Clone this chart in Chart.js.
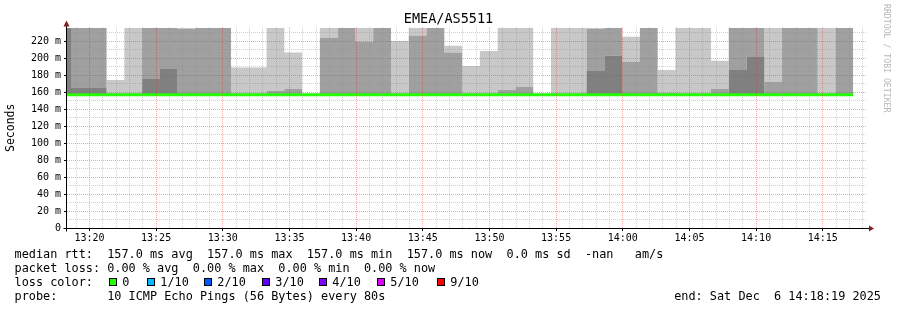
<!DOCTYPE html>
<html>
<head>
<meta charset="utf-8">
<script src="https://cdn.jsdelivr.net/npm/chart.js@4.4.1/dist/chart.umd.min.js"></script>
<style>
    html, body { margin: 0; padding: 0; background: #fff; }
    #wrap { position: relative; width: 897px; height: 310px; overflow: hidden; background: #fff; }
    #chart { position: absolute; left: 0; top: 0; }
    .txt { position: absolute; font-family: "DejaVu Sans Mono", monospace; font-size: 11.85px; line-height: 14px; white-space: pre; color: #000; }
    .box { position: absolute; top: 278px; width: 6px; height: 6px; border: 1px solid #000; }
    #credit { position: absolute; left: 882px; top: 4px; writing-mode: vertical-rl; font-family: "DejaVu Sans Mono", monospace; font-size: 8.2px; line-height: 9px; color: #b8b8b8; white-space: pre; }
</style>
</head>
<body>
<div id="wrap">
    <canvas id="chart" width="897" height="310"></canvas>
    <div id="credit">RRDTOOL / TOBI OETIKER</div>
    <div class="txt" id="rowRtt" style="left:14.5px; top:247px"></div>
    <div class="txt" id="rowLoss" style="left:14.5px; top:261px"></div>
    <div class="txt" style="left:14.5px; top:275px">loss color:</div>
    <div id="lossLegend"></div>
    <div class="txt" id="rowProbe" style="left:14.5px; top:289px"></div>
    <div class="txt" id="rowEnd" style="right:16px; top:289px"></div>
</div>
<script>

// ======================================
// DATA
// ======================================

const title = "EMEA/AS5511";
const viewStart = "13:18:19";
const viewEnd = "14:18:19";
const endLabel = "Sat Dec  6 14:18:19 2025";
const probeText = "10 ICMP Echo Pings (56 Bytes) every 80s";

// 80 s step boundaries (45 steps)
const stepBounds = [
    "13:17:17", "13:18:37", "13:19:57", "13:21:17", "13:22:37", "13:23:57",
    "13:25:17", "13:26:37", "13:27:57", "13:29:17", "13:30:37", "13:31:57",
    "13:33:17", "13:34:37", "13:35:57", "13:37:17", "13:38:37", "13:39:57",
    "13:41:17", "13:42:37", "13:43:57", "13:45:17", "13:46:37", "13:47:57",
    "13:49:17", "13:50:37", "13:51:57", "13:53:17", "13:54:37", "13:55:57",
    "13:57:17", "13:58:37", "13:59:57", "14:01:17", "14:02:37", "14:03:57",
    "14:05:17", "14:06:37", "14:07:57", "14:09:17", "14:10:37", "14:11:57",
    "14:13:17", "14:14:37", "14:15:57", "14:17:17"
];

// median rtt per step (ms)
const medianRtt = [
    157, 157, 157, 157, 157, 157, 157, 157, 157, 157, 157, 157, 157, 157, 157,
    157, 157, 157, 157, 157, 157, 157, 157, 157, 157, 157, 157, 157, 157, 157,
    157, 157, 157, 157, 157, 157, 157, 157, 157, 157, 157, 157, 157, 157, 157
];

// packet loss per step (%)
const lossPct = [
    0, 0, 0, 0, 0, 0, 0, 0, 0, 0, 0, 0, 0, 0, 0,
    0, 0, 0, 0, 0, 0, 0, 0, 0, 0, 0, 0, 0, 0, 0,
    0, 0, 0, 0, 0, 0, 0, 0, 0, 0, 0, 0, 0, 0, 0
];

// smoke: upper edge of the dark, mid and light bands (ms)
const smokeDark = [
    235.5, 165, 165, 157, 157, 175.6, 187.3, 157, 157, 157, 157, 157, 157, 157, 157,
    157, 157, 157, 157, 157, 157, 157, 157, 157, 157, 157, 157, 157, 157, 157,
    185, 203, 157, 157, 157, 157, 157, 157, 186.2, 201.4, 157, 157, 157, 157, 157
];

const smokeMid = [
    235.5, 235.5, 235.5, 157, 157, 235.5, 235.5, 234.3, 235.5, 235.5, 157, 157, 161.5, 163.8, 157,
    223.7, 235.5, 219.4, 235.5, 157, 226.5, 235.5, 206.5, 157, 157, 162.7, 166.2, 157, 157, 157,
    234.3, 235.5, 196, 235.5, 159.5, 157, 157, 163.8, 235.5, 235.5, 172, 235.5, 235.5, 157, 235.5
];

const smokeLight = [
    235.5, 235.5, 235.5, 174.4, 235.5, 235.5, 235.5, 235.5, 235.5, 235.5, 189, 189, 235.5, 206.5, 157,
    235.5, 235.5, 235.5, 235.5, 220.2, 235.5, 235.5, 214.4, 190.9, 208.5, 235.5, 235.5, 157, 235.5, 235.5,
    235.5, 235.5, 225, 235.5, 186.2, 235.5, 235.5, 197, 235.5, 235.5, 235.5, 235.5, 235.5, 235.5, 235.5
];

const xTickLabels = ["13:20", "13:25", "13:30", "13:35", "13:40", "13:45", "13:50", "13:55", "14:00", "14:05", "14:10", "14:15"];
const yTickValues = [0, 20, 40, 60, 80, 100, 120, 140, 160, 180, 200, 220];
const yTickLabels = ["0", "20 m", "40 m", "60 m", "80 m", "100 m", "120 m", "140 m", "160 m", "180 m", "200 m", "220 m"];
const yMax = 236.5;

const lossLabels = ["0", "1/10", "2/10", "3/10", "4/10", "5/10", "9/10"];
const lossColors = ["#26ff00", "#00b8ff", "#0059ff", "#5e00ff", "#7e00ff", "#dd00ff", "#ff0000"];

// legend box positions (px)
const lossBoxLeft = [109, 147, 204, 262, 319, 377, 437];


// ======================================
// HELPERS
// ======================================

const MONO = "'DejaVu Sans Mono', monospace";

const toMinutes = t => {
    const [h, m, s] = t.split(":").map(Number);
    return h * 60 + m + (s || 0) / 60;
};

// value i covers stepBounds[i] .. stepBounds[i + 1]
const stepLine = values => {
    const pts = values.map((v, i) => ({ x: toMinutes(stepBounds[i]), y: v }));
    pts.push({ x: toMinutes(stepBounds[values.length]), y: values[values.length - 1] });
    return pts;
};

const xMajor = xTickLabels.map(toMinutes);

const xGrid = [];
for (let m = Math.ceil(toMinutes(viewStart)); m <= Math.floor(toMinutes(viewEnd)); m++) xGrid.push(m);

const yGrid = [];
for (let v = 0; v <= yMax; v += 10) yGrid.push(v);

const MINOR = "rgba(140,140,140,0.4)";
const MAJOR = "rgba(240,40,40,0.42)";

const band = (data, color) => ({
    data: stepLine(data),
    stepped: "before",
    borderWidth: 0,
    borderColor: "transparent",
    backgroundColor: color,
    pointRadius: 0,
    fill: "-1",
    xAxisID: "x",
    yAxisID: "y"
});


// ======================================
// AXES + ARROWS
// ======================================

const rrdAxes = {
    id: "rrdAxes",
    afterDraw(chart) {
        const { ctx, chartArea: a, scales } = chart;
        const ax = Math.round(a.left) - 0.5;
        const ay = Math.round(a.bottom - 0.5) + 0.5;

        ctx.save();
        ctx.strokeStyle = "#000";
        ctx.lineWidth = 1;
        ctx.beginPath();
        ctx.moveTo(ax, a.top - 1);
        ctx.lineTo(ax, ay + 3);
        ctx.moveTo(ax - 3, ay);
        ctx.lineTo(a.right + 2, ay);
        ctx.stroke();

        ctx.fillStyle = "#000";
        yTickValues.forEach(v => {
            const py = Math.round(scales.y.getPixelForValue(v) - 0.5);
            ctx.fillRect(ax - 2.5, py, 2, 1);
        });
        xMajor.forEach(v => {
            const px = Math.round(scales.x.getPixelForValue(v) - 0.5);
            ctx.fillRect(px, ay + 0.5, 1, 2);
        });

        ctx.fillStyle = "#7f1f1f";
        ctx.beginPath();
        ctx.moveTo(ax - 3, a.top - 0.5);
        ctx.lineTo(ax, a.top - 6.5);
        ctx.lineTo(ax + 3, a.top - 0.5);
        ctx.closePath();
        ctx.fill();

        ctx.beginPath();
        ctx.moveTo(a.right + 2, ay - 3);
        ctx.lineTo(a.right + 7, ay);
        ctx.lineTo(a.right + 2, ay + 3);
        ctx.closePath();
        ctx.fill();
        ctx.restore();
    }
};


// ======================================
// CHART
// ======================================

new Chart(document.getElementById("chart"), {

    type: "line",

    data: {
        datasets: [
            {
                label: "median rtt",
                data: stepLine(medianRtt),
                stepped: "before",
                borderColor: "#26ff00",
                borderWidth: 3,
                pointRadius: 0,
                fill: false,
                xAxisID: "x",
                yAxisID: "y"
            },
            band(smokeDark, "#808080"),
            band(smokeMid, "#a0a0a0"),
            band(smokeLight, "#c8c8c8")
        ]
    },

    options: {
        responsive: false,
        devicePixelRatio: 1,
        animation: false,
        layout: { padding: { left: 0, right: 0, top: 0, bottom: 61.5 } },
        plugins: {
            legend: { display: false },
            tooltip: { enabled: false },
            title: {
                display: true,
                text: title,
                color: "#000",
                font: { family: MONO, size: 13.5, weight: "normal", lineHeight: 1.1 },
                padding: { top: 12.2, bottom: 0 }
            }
        },
        scales: {
            x: {
                type: "linear",
                min: toMinutes(viewStart),
                max: toMinutes(viewEnd),
                afterBuildTicks: s => { s.ticks = xGrid.map(v => ({ value: v })); },
                afterFit: s => { s.height = 20; },
                ticks: {
                    autoSkip: false,
                    maxRotation: 0,
                    padding: 4,
                    color: "#000",
                    font: { family: MONO, size: 10 },
                    callback: v => {
                        const i = xMajor.indexOf(v);
                        return i >= 0 ? xTickLabels[i] : "";
                    }
                },
                grid: {
                    drawTicks: false,
                    z: 1,
                    lineWidth: 1,
                    color: c => xMajor.includes(c.tick.value) ? MAJOR : MINOR
                },
                border: { display: false, dash: [1, 1] }
            },
            y: {
                type: "linear",
                position: "left",
                min: 0,
                max: yMax,
                afterBuildTicks: s => { s.ticks = yGrid.map(v => ({ value: v })); },
                afterFit: s => { s.width = 67; },
                ticks: {
                    autoSkip: false,
                    padding: 6,
                    color: "#000",
                    font: { family: MONO, size: 10 },
                    callback: v => {
                        const i = yTickValues.indexOf(v);
                        return i >= 0 ? yTickLabels[i] : "";
                    }
                },
                title: {
                    display: true,
                    text: "Seconds",
                    color: "#000",
                    font: { family: MONO, size: 11.5 },
                    padding: { top: 4, bottom: 0 }
                },
                grid: {
                    drawTicks: false,
                    z: 1,
                    lineWidth: 1,
                    color: c => c.tick.value === 0 ? "transparent" : (yTickValues.includes(c.tick.value) ? MAJOR : MINOR)
                },
                border: { display: false, dash: [1, 1] }
            },
            yRight: {
                type: "linear",
                position: "right",
                display: true,
                afterFit: s => { s.width = 30; },
                ticks: { display: false },
                grid: { display: false, drawTicks: false },
                border: { display: false }
            }
        }
    },

    plugins: [rrdAxes]

});


// ======================================
// LEGEND TEXT
// ======================================

const avg = arr => arr.reduce((a, b) => a + b, 0) / arr.length;
const sd = arr => {
    const m = avg(arr);
    return Math.sqrt(avg(arr.map(v => (v - m) ** 2)));
};

document.getElementById("rowRtt").textContent =
    "median rtt:  " +
    avg(medianRtt).toFixed(1) + " ms avg  " +
    Math.max(...medianRtt).toFixed(1) + " ms max  " +
    Math.min(...medianRtt).toFixed(1) + " ms min  " +
    medianRtt[medianRtt.length - 1].toFixed(1) + " ms now  " +
    sd(medianRtt).toFixed(1) + " ms sd  -nan   am/s";

document.getElementById("rowLoss").textContent =
    "packet loss: " +
    avg(lossPct).toFixed(2) + " % avg  " +
    Math.max(...lossPct).toFixed(2) + " % max  " +
    Math.min(...lossPct).toFixed(2) + " % min  " +
    lossPct[lossPct.length - 1].toFixed(2) + " % now";

document.getElementById("rowProbe").textContent = "probe:       " + probeText;
document.getElementById("rowEnd").textContent = "end: " + endLabel;

const lossLegend = document.getElementById("lossLegend");

lossLabels.forEach((label, i) => {

    const box = document.createElement("div");
    box.className = "box";
    box.style.left = lossBoxLeft[i] + "px";
    box.style.background = lossColors[i];
    lossLegend.appendChild(box);

    const txt = document.createElement("div");
    txt.className = "txt";
    txt.style.left = (lossBoxLeft[i] + 13.3) + "px";
    txt.style.top = "275px";
    txt.textContent = label;
    lossLegend.appendChild(txt);

});

</script>
</body>
</html>
